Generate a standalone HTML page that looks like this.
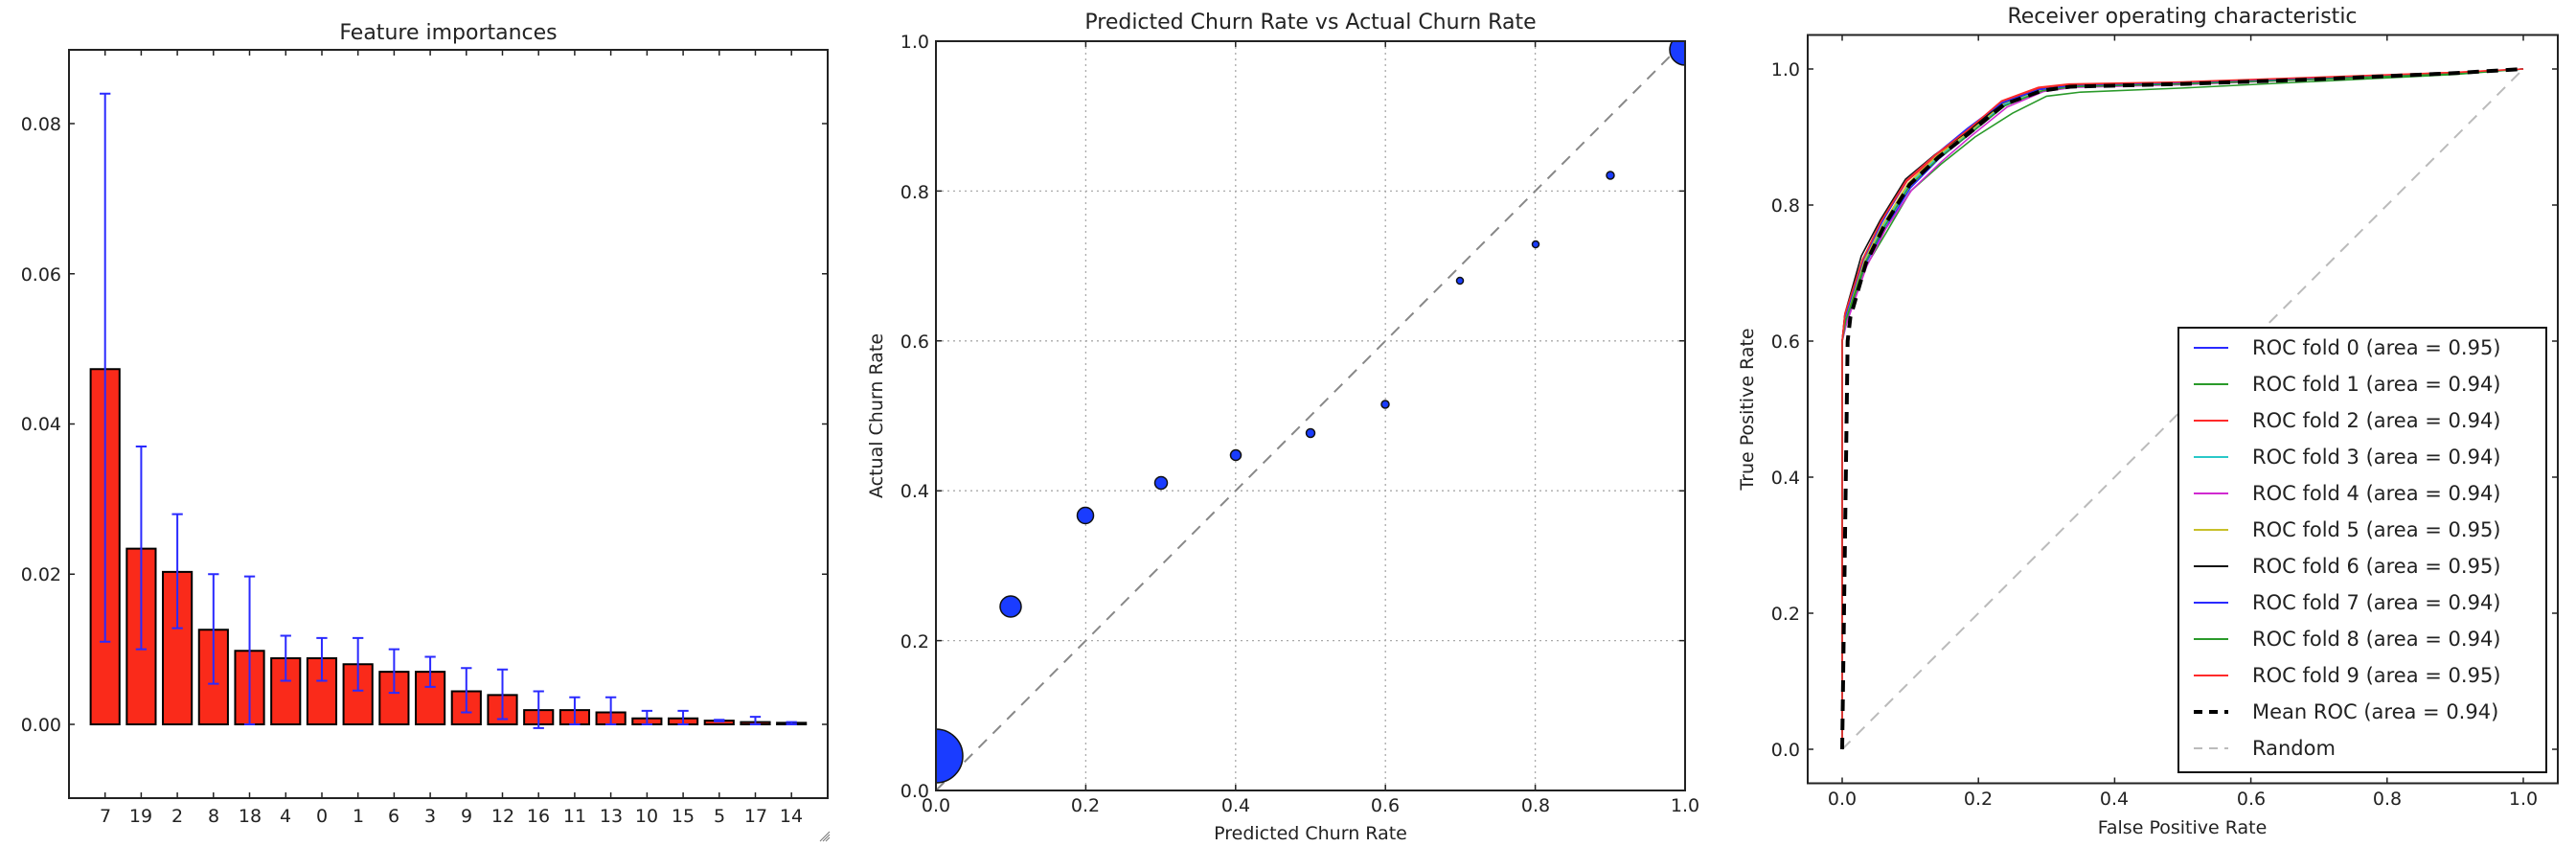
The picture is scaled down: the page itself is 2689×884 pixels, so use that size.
<!DOCTYPE html>
<html><head><meta charset="utf-8"><style>
html,body{margin:0;padding:0;background:#fff;}
svg{display:block;}
text{font-family:"DejaVu Sans","Liberation Sans",sans-serif;fill:#222;}
.t{font-size:19px;}
.ti{font-size:22px;}
.lg{font-size:21px;}
</style></head><body>
<svg width="2689" height="884" viewBox="0 0 2689 884" xmlns="http://www.w3.org/2000/svg">
<rect width="2689" height="884" fill="#fff"/>

<!-- ============ PANEL 1 ============ -->
<text class="ti" x="468" y="41" text-anchor="middle">Feature importances</text>
<g transform="translate(109.7,756) scale(37.71,-7837)">
  <g fill="#fa2a1a" stroke="#000" stroke-width="2" vector-effect="non-scaling-stroke">
    <rect x="-0.4" y="0" width="0.8" height="0.0473" vector-effect="non-scaling-stroke"/>
    <rect x="0.6" y="0" width="0.8" height="0.0234" vector-effect="non-scaling-stroke"/>
    <rect x="1.6" y="0" width="0.8" height="0.0203" vector-effect="non-scaling-stroke"/>
    <rect x="2.6" y="0" width="0.8" height="0.0126" vector-effect="non-scaling-stroke"/>
    <rect x="3.6" y="0" width="0.8" height="0.0098" vector-effect="non-scaling-stroke"/>
    <rect x="4.6" y="0" width="0.8" height="0.0088" vector-effect="non-scaling-stroke"/>
    <rect x="5.6" y="0" width="0.8" height="0.0088" vector-effect="non-scaling-stroke"/>
    <rect x="6.6" y="0" width="0.8" height="0.0080" vector-effect="non-scaling-stroke"/>
    <rect x="7.6" y="0" width="0.8" height="0.0070" vector-effect="non-scaling-stroke"/>
    <rect x="8.6" y="0" width="0.8" height="0.0070" vector-effect="non-scaling-stroke"/>
    <rect x="9.6" y="0" width="0.8" height="0.0044" vector-effect="non-scaling-stroke"/>
    <rect x="10.6" y="0" width="0.8" height="0.0039" vector-effect="non-scaling-stroke"/>
    <rect x="11.6" y="0" width="0.8" height="0.0019" vector-effect="non-scaling-stroke"/>
    <rect x="12.6" y="0" width="0.8" height="0.0019" vector-effect="non-scaling-stroke"/>
    <rect x="13.6" y="0" width="0.8" height="0.0016" vector-effect="non-scaling-stroke"/>
    <rect x="14.6" y="0" width="0.8" height="0.0008" vector-effect="non-scaling-stroke"/>
    <rect x="15.6" y="0" width="0.8" height="0.0008" vector-effect="non-scaling-stroke"/>
    <rect x="16.6" y="0" width="0.8" height="0.0005" vector-effect="non-scaling-stroke"/>
    <rect x="17.6" y="0" width="0.8" height="0.0003" vector-effect="non-scaling-stroke"/>
    <rect x="18.6" y="0" width="0.8" height="0.0002" vector-effect="non-scaling-stroke"/>
  </g>
  <g stroke="#2a2aff" stroke-width="2" fill="none">
    <path vector-effect="non-scaling-stroke" d="M0,0.011V0.084M1,0.010V0.037M2,0.0128V0.028M3,0.0054V0.020M4,0V0.0197M5,0.0058V0.0118M6,0.0058V0.0115M7,0.0045V0.0115M8,0.0042V0.0100M9,0.0050V0.0090M10,0.0016V0.0075M11,0.0007V0.0073M12,-0.0005V0.0044M13,0V0.0036M14,0V0.0036M15,0V0.0018M16,0V0.0018M17,0.0004V0.0006M18,0V0.0010M19,0V0.0003"/>
    <path vector-effect="non-scaling-stroke" d="M-0.15,0.011H0.15M-0.15,0.084H0.15M0.85,0.010H1.15M0.85,0.037H1.15M1.85,0.0128H2.15M1.85,0.028H2.15M2.85,0.0054H3.15M2.85,0.020H3.15M3.85,0H4.15M3.85,0.0197H4.15M4.85,0.0058H5.15M4.85,0.0118H5.15M5.85,0.0058H6.15M5.85,0.0115H6.15M6.85,0.0045H7.15M6.85,0.0115H7.15M7.85,0.0042H8.15M7.85,0.0100H8.15M8.85,0.0050H9.15M8.85,0.0090H9.15M9.85,0.0016H10.15M9.85,0.0075H10.15M10.85,0.0007H11.15M10.85,0.0073H11.15M11.85,-0.0005H12.15M11.85,0.0044H12.15M12.85,0H13.15M12.85,0.0036H13.15M13.85,0H14.15M13.85,0.0036H14.15M14.85,0H15.15M14.85,0.0018H15.15M15.85,0H16.15M15.85,0.0018H16.15M16.85,0.0004H17.15M16.85,0.0006H17.15M17.85,0H18.15M17.85,0.0010H18.15M18.85,0H19.15M18.85,0.0003H19.15"/>
  </g>
</g>
<rect x="72" y="52" width="792" height="781" fill="none" stroke="#222" stroke-width="2"/>
<g stroke="#222" stroke-width="1.5">
  <path d="M72,756h6M72,599.3h6M72,442.5h6M72,285.8h6M72,129h6M864,756h-6M864,599.3h-6M864,442.5h-6M864,285.8h-6M864,129h-6"/>
  <path d="M109.7,833v-6M147.4,833v-6M185.1,833v-6M222.8,833v-6M260.5,833v-6M298.3,833v-6M336,833v-6M373.7,833v-6M411.4,833v-6M449.1,833v-6M486.8,833v-6M524.5,833v-6M562.2,833v-6M599.9,833v-6M637.6,833v-6M675.4,833v-6M713.1,833v-6M750.8,833v-6M788.5,833v-6M826.2,833v-6"/>
  <path d="M109.7,52v6M147.4,52v6M185.1,52v6M222.8,52v6M260.5,52v6M298.3,52v6M336,52v6M373.7,52v6M411.4,52v6M449.1,52v6M486.8,52v6M524.5,52v6M562.2,52v6M599.9,52v6M637.6,52v6M675.4,52v6M713.1,52v6M750.8,52v6M788.5,52v6M826.2,52v6"/>
</g>
<g class="t" text-anchor="end">
  <text x="64" y="763">0.00</text><text x="64" y="606">0.02</text><text x="64" y="449">0.04</text><text x="64" y="293">0.06</text><text x="64" y="136">0.08</text>
</g>
<g class="t" text-anchor="middle">
  <text x="110" y="858">7</text><text x="147" y="858">19</text><text x="185" y="858">2</text><text x="223" y="858">8</text><text x="261" y="858">18</text><text x="298" y="858">4</text><text x="336" y="858">0</text><text x="374" y="858">1</text><text x="411" y="858">6</text><text x="449" y="858">3</text><text x="487" y="858">9</text><text x="525" y="858">12</text><text x="562" y="858">16</text><text x="600" y="858">11</text><text x="638" y="858">13</text><text x="675" y="858">10</text><text x="713" y="858">15</text><text x="751" y="858">5</text><text x="789" y="858">17</text><text x="826" y="858">14</text>
</g>
<g stroke="#777" stroke-width="1"><path d="M856,878l10,-10M859,878l7,-7M862,878l4,-4"/></g>

<!-- ============ PANEL 2 ============ -->
<text class="ti" x="1368" y="30" text-anchor="middle">Predicted Churn Rate vs Actual Churn Rate</text>
<g stroke="#aaa" stroke-width="1.3" stroke-dasharray="2,4" fill="none">
  <path d="M1133.4,43V825M1289.8,43V825M1446.2,43V825M1602.6,43V825"/>
  <path d="M977,668.6H1759M977,512.2H1759M977,355.8H1759M977,199.4H1759"/>
</g>
<path d="M977,825L1759,43" stroke="#888" stroke-width="2" stroke-dasharray="12,9" fill="none"/>
<defs><clipPath id="c2"><rect x="977" y="43" width="782" height="782"/></clipPath></defs>
<g clip-path="url(#c2)" fill="#1a3cff" stroke="#111" stroke-width="1.5">
  <circle cx="977" cy="789" r="28"/>
  <circle cx="1055" cy="633" r="11"/>
  <circle cx="1133" cy="538" r="8.5"/>
  <circle cx="1212" cy="504" r="6.5"/>
  <circle cx="1290" cy="475" r="5.5"/>
  <circle cx="1368" cy="452" r="4.5"/>
  <circle cx="1446" cy="422" r="4"/>
  <circle cx="1524" cy="293" r="3.5"/>
  <circle cx="1603" cy="255" r="3.5"/>
  <circle cx="1681" cy="183" r="4"/>
  <circle cx="1759" cy="52" r="16"/>
</g>
<rect x="977" y="43" width="782" height="782" fill="none" stroke="#222" stroke-width="2"/>
<g stroke="#222" stroke-width="1.5">
  <path d="M1133.4,825v-6M1289.8,825v-6M1446.2,825v-6M1602.6,825v-6M1133.4,43v6M1289.8,43v6M1446.2,43v6M1602.6,43v6"/>
  <path d="M977,668.6h6M977,512.2h6M977,355.8h6M977,199.4h6M1759,668.6h-6M1759,512.2h-6M1759,355.8h-6M1759,199.4h-6"/>
</g>
<g class="t" text-anchor="middle">
  <text x="977" y="847">0.0</text><text x="1133" y="847">0.2</text><text x="1290" y="847">0.4</text><text x="1446" y="847">0.6</text><text x="1603" y="847">0.8</text><text x="1759" y="847">1.0</text>
</g>
<g class="t" text-anchor="end">
  <text x="970" y="832">0.0</text><text x="970" y="676">0.2</text><text x="970" y="519">0.4</text><text x="970" y="363">0.6</text><text x="970" y="207">0.8</text><text x="970" y="50">1.0</text>
</g>
<text class="t" x="1368" y="876" text-anchor="middle">Predicted Churn Rate</text>
<text class="t" x="921" y="434" text-anchor="middle" transform="rotate(-90 921 434)">Actual Churn Rate</text>

<!-- ============ PANEL 3 ============ -->
<text class="ti" x="2278" y="24" text-anchor="middle">Receiver operating characteristic</text>
<path d="M1923,782L2634,72" stroke="#bbb" stroke-width="2" stroke-dasharray="12,9" fill="none"/>
<g transform="translate(1923,782) scale(711,-710)" fill="none" stroke-width="1.6">
  <polyline vector-effect="non-scaling-stroke" stroke="#2a2aff" points="0,0 0,0.6 0.006,0.625 0.035,0.715 0.063,0.765 0.1,0.825 0.142,0.868 0.188,0.905 0.24,0.948 0.295,0.968 0.34,0.974 0.5,0.978 0.7,0.986 0.9,0.994 1,1"/>
  <polyline vector-effect="non-scaling-stroke" stroke="#2a9a2a" points="0,0 0,0.6 0.005,0.63 0.035,0.71 0.065,0.76 0.1,0.82 0.145,0.86 0.195,0.9 0.25,0.935 0.3,0.96 0.35,0.966 0.5,0.972 0.7,0.982 0.9,0.992 1,1"/>
  <polyline vector-effect="non-scaling-stroke" stroke="#ff2a2a" points="0,0 0,0.6 0.004,0.64 0.03,0.72 0.058,0.775 0.095,0.835 0.138,0.872 0.185,0.91 0.235,0.952 0.29,0.972 0.335,0.977 0.5,0.98 0.7,0.987 0.9,0.995 1,1"/>
  <polyline vector-effect="non-scaling-stroke" stroke="#2ac8c8" points="0,0 0,0.6 0.005,0.63 0.033,0.715 0.061,0.77 0.098,0.83 0.14,0.87 0.186,0.906 0.237,0.948 0.293,0.968 0.335,0.974 0.5,0.978 0.7,0.985 0.9,0.994 1,1"/>
  <polyline vector-effect="non-scaling-stroke" stroke="#d02ad0" points="0,0 0,0.6 0.006,0.625 0.036,0.71 0.064,0.765 0.102,0.822 0.146,0.864 0.19,0.902 0.242,0.944 0.296,0.967 0.34,0.973 0.5,0.977 0.7,0.985 0.9,0.994 1,1"/>
  <polyline vector-effect="non-scaling-stroke" stroke="#c8c02a" points="0,0 0,0.6 0.005,0.635 0.032,0.718 0.06,0.772 0.097,0.832 0.139,0.872 0.186,0.907 0.237,0.95 0.293,0.97 0.335,0.975 0.5,0.979 0.7,0.986 0.9,0.994 1,1"/>
  <polyline vector-effect="non-scaling-stroke" stroke="#111" points="0,0 0,0.6 0.004,0.64 0.028,0.725 0.056,0.778 0.093,0.838 0.136,0.874 0.184,0.908 0.235,0.95 0.29,0.97 0.335,0.975 0.5,0.979 0.7,0.986 0.9,0.994 1,1"/>
  <polyline vector-effect="non-scaling-stroke" stroke="#2a2aff" points="0,0 0,0.6 0.004,0.635 0.031,0.72 0.058,0.774 0.094,0.836 0.137,0.874 0.183,0.912 0.234,0.95 0.29,0.97 0.335,0.975 0.5,0.979 0.7,0.986 0.9,0.994 1,1"/>
  <polyline vector-effect="non-scaling-stroke" stroke="#2a9a2a" points="0,0 0,0.6 0.005,0.63 0.034,0.716 0.062,0.768 0.099,0.828 0.141,0.868 0.188,0.905 0.239,0.946 0.294,0.968 0.338,0.974 0.5,0.978 0.7,0.985 0.9,0.993 1,1"/>
  <polyline vector-effect="non-scaling-stroke" stroke="#ff2a2a" points="0,0 0,0.6 0.004,0.64 0.03,0.72 0.057,0.776 0.094,0.836 0.137,0.874 0.184,0.91 0.234,0.953 0.288,0.973 0.333,0.978 0.5,0.981 0.7,0.988 0.9,0.995 1,1"/>
  <polyline vector-effect="non-scaling-stroke" stroke="#000" stroke-width="4" stroke-dasharray="12,8" points="0,0 0.008,0.6 0.012,0.635 0.035,0.715 0.062,0.77 0.099,0.83 0.141,0.87 0.187,0.906 0.238,0.948 0.293,0.968 0.335,0.974 0.5,0.978 0.7,0.985 0.9,0.994 1,1"/>
</g>
<rect x="1887" y="36.5" width="783" height="781" fill="none" stroke="#222" stroke-width="2"/>
<g stroke="#222" stroke-width="1.5">
  <path d="M1923,817.5v-6M2065.2,817.5v-6M2207.4,817.5v-6M2349.6,817.5v-6M2491.8,817.5v-6M2634,817.5v-6M1923,36.5v6M2065.2,36.5v6M2207.4,36.5v6M2349.6,36.5v6M2491.8,36.5v6M2634,36.5v6"/>
  <path d="M1887,782h6M1887,640h6M1887,498h6M1887,356h6M1887,214h6M1887,72h6M2670,782h-6M2670,640h-6M2670,498h-6M2670,356h-6M2670,214h-6M2670,72h-6"/>
</g>
<g class="t" text-anchor="middle">
  <text x="1923" y="840">0.0</text><text x="2065" y="840">0.2</text><text x="2207" y="840">0.4</text><text x="2350" y="840">0.6</text><text x="2492" y="840">0.8</text><text x="2634" y="840">1.0</text>
</g>
<g class="t" text-anchor="end">
  <text x="1879" y="789">0.0</text><text x="1879" y="647">0.2</text><text x="1879" y="505">0.4</text><text x="1879" y="363">0.6</text><text x="1879" y="221">0.8</text><text x="1879" y="79">1.0</text>
</g>
<text class="t" x="2278" y="870" text-anchor="middle">False Positive Rate</text>
<text class="t" x="1830" y="427" text-anchor="middle" transform="rotate(-90 1830 427)">True Positive Rate</text>

<!-- legend -->
<rect x="2274" y="342" width="384" height="464" fill="#fff" stroke="#111" stroke-width="2"/>
<g stroke-width="2">
  <line x1="2290" y1="363" x2="2326" y2="363" stroke="#2a2aff"/>
  <line x1="2290" y1="401" x2="2326" y2="401" stroke="#2a9a2a"/>
  <line x1="2290" y1="439" x2="2326" y2="439" stroke="#ff2a2a"/>
  <line x1="2290" y1="477" x2="2326" y2="477" stroke="#2ac8c8"/>
  <line x1="2290" y1="515" x2="2326" y2="515" stroke="#d02ad0"/>
  <line x1="2290" y1="553" x2="2326" y2="553" stroke="#c8c02a"/>
  <line x1="2290" y1="591" x2="2326" y2="591" stroke="#111"/>
  <line x1="2290" y1="629" x2="2326" y2="629" stroke="#2a2aff"/>
  <line x1="2290" y1="667" x2="2326" y2="667" stroke="#2a9a2a"/>
  <line x1="2290" y1="705" x2="2326" y2="705" stroke="#ff2a2a"/>
  <line x1="2290" y1="743" x2="2326" y2="743" stroke="#000" stroke-width="4" stroke-dasharray="9,7"/>
  <line x1="2290" y1="781" x2="2326" y2="781" stroke="#bbb" stroke-dasharray="9,7"/>
</g>
<g class="lg">
  <text x="2351" y="370">ROC fold 0 (area = 0.95)</text>
  <text x="2351" y="408">ROC fold 1 (area = 0.94)</text>
  <text x="2351" y="446">ROC fold 2 (area = 0.94)</text>
  <text x="2351" y="484">ROC fold 3 (area = 0.94)</text>
  <text x="2351" y="522">ROC fold 4 (area = 0.94)</text>
  <text x="2351" y="560">ROC fold 5 (area = 0.95)</text>
  <text x="2351" y="598">ROC fold 6 (area = 0.95)</text>
  <text x="2351" y="636">ROC fold 7 (area = 0.94)</text>
  <text x="2351" y="674">ROC fold 8 (area = 0.94)</text>
  <text x="2351" y="712">ROC fold 9 (area = 0.95)</text>
  <text x="2351" y="750">Mean ROC (area = 0.94)</text>
  <text x="2351" y="788">Random</text>
</g>
</svg>
</body></html>
